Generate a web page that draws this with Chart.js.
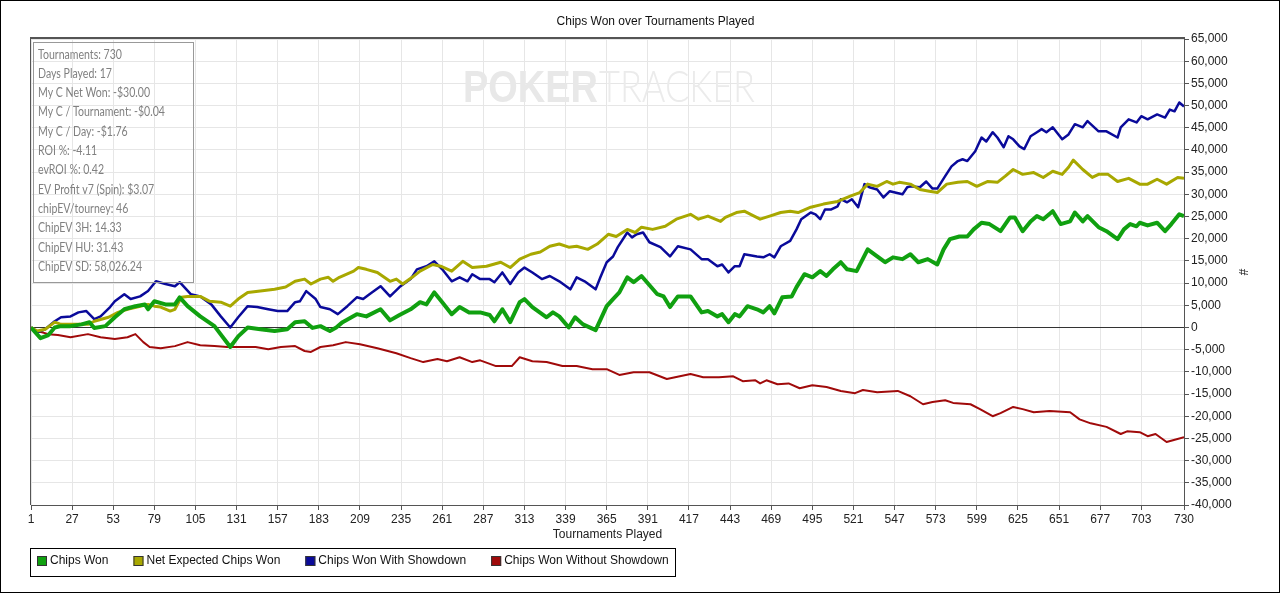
<!DOCTYPE html>
<html>
<head>
<meta charset="utf-8">
<title>Chips Won over Tournaments Played</title>
<script src="https://cdn.jsdelivr.net/npm/chart.js@4.4.1/dist/chart.umd.min.js"></script>
<style>
  html, body { margin: 0; padding: 0; background: #fff; }
  canvas { display: block; }
</style>
</head>
<body>
<canvas id="chart" width="1280" height="593"></canvas>
<script>
// Tick labels on the tournaments axis
const tourneyTicks = [1, 27, 53, 79, 105, 131, 157, 183, 209, 235, 261, 287, 313, 339, 365,
  391, 417, 443, 469, 495, 521, 547, 573, 599, 625, 651, 677, 703, 730];

// Stats box text
const statsLines = [
  "Tournaments: 730",
  "Days Played: 17",
  "My C Net Won: -$30.00",
  "My C / Tournament: -$0.04",
  "My C / Day: -$1.76",
  "ROI %: -4.11",
  "evROI %: 0.42",
  "EV Profit v7 (Spin): $3.07",
  "chipEV/tourney: 46",
  "ChipEV 3H: 14.33",
  "ChipEV HU: 31.43",
  "ChipEV SD: 58,026.24",
];

// Chips Won (tournament, chips)
const chipsWonT = [1, 7, 12, 16, 20, 26, 33, 38, 41, 48, 54, 60, 67, 73, 75, 79, 86, 92, 95, 100,
  108, 117, 127, 132, 138, 146, 155, 163, 168, 174, 179, 184, 190, 194, 198, 207, 213, 222, 228, 234,
  241, 247, 251, 256, 261, 267, 272, 278, 285, 291, 294, 299, 304, 310, 313, 318, 327, 331, 335, 341,
  345, 350, 358, 365, 369, 373, 378, 382, 387, 397, 401, 405, 410, 418, 425, 429, 435, 438, 442, 446,
  449, 454, 460, 464, 468, 471, 476, 482, 485, 490, 495, 500, 504, 508, 513, 517, 523, 530, 536, 541,
  546, 552, 557, 562, 568, 574, 578, 582, 588, 593, 597, 602, 607, 614, 620, 623, 628, 633, 637, 641,
  647, 652, 658, 661, 666, 669, 676, 681, 688, 692, 696, 700, 702, 707, 713, 718, 722, 727, 730];
const chipsWonV = [0, -2400, -1700, 0, 300, 300, 700, 1200, -100, 300, 2300, 4100, 4800, 5200, 4100, 5900, 5200, 5200, 6800, 4800,
  2500, 300, -4400, -2000, 0, -400, -800, -400, 1200, 1400, -100, 300, -800, 0, 1200, 3000, 2500, 4100, 1600, 2800,
  4100, 5700, 5200, 7900, 5700, 3000, 4600, 3400, 3400, 2800, 1400, 4100, 1200, 5700, 6400, 4600, 2300, 3400, 2500, 0,
  2300, 700, -600, 4800, 6400, 7900, 11300, 10200, 11600, 7500, 7000, 4600, 7000, 7000, 3400, 3700, 2500, 3000, 1200, 3000,
  2500, 4800, 4100, 3400, 4800, 3200, 6800, 7000, 9100, 12000, 11300, 12700, 11600, 13100, 14700, 13100, 12700, 17600, 16000, 14700,
  15800, 15400, 16500, 14700, 15400, 14200, 17600, 19900, 20500, 20500, 22100, 23600, 23300, 21700, 24800, 24800, 21700, 23900, 25100, 24400,
  26200, 23300, 23900, 25900, 23900, 25100, 22600, 21700, 19900, 22100, 23300, 22800, 23600, 23000, 23600, 21700, 23300, 25500, 25100];

// Net Expected Chips Won
const netExpectedT = [1, 5, 10, 16, 20, 29, 37, 41, 50, 56, 62, 70, 75, 79, 83, 89, 92, 96, 100, 108,
  114, 121, 127, 132, 138, 146, 155, 162, 168, 174, 178, 184, 189, 192, 196, 205, 208, 213, 220, 228,
  232, 236, 242, 247, 255, 260, 267, 274, 280, 289, 298, 304, 310, 317, 323, 329, 335, 341, 346, 353,
  359, 366, 371, 378, 383, 387, 394, 402, 409, 418, 423, 429, 437, 440, 447, 452, 456, 462, 468, 475,
  481, 486, 494, 502, 511, 519, 525, 530, 536, 542, 546, 550, 557, 563, 569, 574, 580, 587, 593, 599,
  606, 612, 617, 622, 628, 635, 641, 647, 653, 657, 660, 666, 672, 676, 682, 688, 695, 702, 707, 713,
  719, 726, 730];
const netExpectedV = [0, -800, -400, 1200, 700, 700, 700, 1400, 2300, 3400, 4100, 4800, 5200, 4800, 4600, 3700, 4100, 6800, 7000, 7000,
  5900, 5700, 4800, 6400, 7900, 8200, 8600, 9100, 10400, 10900, 9800, 10900, 11300, 10400, 11300, 12700, 13500, 13100, 12400, 10400,
  10900, 9800, 11300, 12700, 14200, 13800, 12700, 14900, 13500, 13800, 14700, 13500, 15400, 16500, 17000, 18300, 18800, 18100, 18300, 17600,
  18800, 21000, 20500, 22100, 21400, 22600, 22100, 22800, 24400, 25500, 24400, 25100, 23900, 24800, 25900, 26200, 25500, 24400, 25100, 25900,
  26200, 25900, 27100, 27800, 28400, 29600, 30400, 32300, 31800, 32900, 32300, 32700, 32300, 31100, 30700, 30400, 32300, 32700, 32900, 31800,
  32900, 32700, 34100, 35600, 34500, 34900, 33800, 35200, 34500, 36100, 37700, 35600, 33800, 34500, 34500, 32900, 33600, 32300, 32300, 33400,
  32300, 33800, 33600];

// Chips Won With Showdown
const withShowdownT = [1, 5, 10, 16, 20, 26, 31, 36, 41, 45, 51, 54, 60, 64, 70, 75, 80, 86, 92, 95,
  102, 108, 115, 121, 127, 132, 138, 144, 151, 157, 163, 168, 171, 175, 181, 184, 190, 195, 201, 207,
  211, 215, 222, 228, 234, 241, 245, 251, 256, 261, 267, 272, 277, 280, 285, 291, 294, 299, 304, 309,
  313, 318, 324, 329, 335, 342, 346, 351, 358, 361, 365, 369, 372, 378, 381, 384, 388, 392, 399, 405,
  410, 418, 425, 429, 435, 438, 442, 446, 449, 452, 460, 464, 468, 471, 475, 481, 485, 488, 494, 497,
  500, 503, 507, 511, 513, 517, 520, 524, 528, 531, 536, 540, 544, 552, 555, 557, 563, 567, 571, 574,
  579, 583, 587, 590, 593, 598, 602, 605, 609, 612, 616, 619, 622, 626, 629, 633, 637, 640, 643, 647,
  653, 657, 661, 666, 669, 676, 681, 688, 690, 695, 700, 703, 707, 713, 718, 721, 724, 727, 730];
const withShowdownV = [0, -1100, -400, 1400, 2300, 2500, 3400, 3700, 1900, 2500, 4600, 5900, 7500, 6400, 7000, 8200, 10400, 9800, 9300, 10200,
  7500, 7000, 5200, 2500, 0, 2300, 4800, 4600, 4100, 3700, 3700, 5700, 5900, 8200, 6400, 4600, 4100, 3000, 4800, 6800,
  6400, 7500, 9300, 7000, 9100, 10900, 13100, 13800, 14900, 13100, 10400, 11300, 10400, 12000, 10900, 10900, 10200, 12400, 9800, 12400,
  13500, 12400, 10900, 11600, 10400, 8600, 11300, 10400, 8600, 11300, 14700, 16000, 18100, 21400, 20300, 21000, 21400, 19200, 18100, 16000,
  18300, 17600, 15400, 15400, 13800, 14200, 12400, 13800, 13800, 16500, 16000, 15800, 16500, 15800, 18300, 19500, 22100, 24400, 25900, 25500,
  24400, 26600, 26600, 27300, 28900, 28200, 28900, 27100, 32300, 31600, 31100, 29300, 30700, 30000, 31600, 31800, 31600, 32900, 31300, 31300,
  34100, 36300, 37500, 37900, 37500, 39700, 42800, 41900, 44000, 42800, 40600, 43100, 42400, 40800, 40200, 43100, 44000, 44700, 44000, 45100,
  42400, 43500, 45800, 45100, 46500, 44200, 44200, 42800, 45100, 46900, 46200, 47600, 46900, 48000, 47300, 49100, 48700, 50700, 49800];

// Chips Won Without Showdown
const withoutShowdownT = [1, 5, 12, 18, 26, 37, 45, 54, 62, 67, 72, 76, 83, 92, 100, 108, 117, 125, 134, 143,
  151, 159, 168, 174, 178, 184, 192, 200, 209, 220, 232, 241, 249, 258, 264, 272, 280, 285, 295, 305,
  310, 318, 327, 337, 346, 356, 365, 373, 382, 392, 403, 418, 426, 436, 445, 451, 459, 462, 466, 473,
  480, 487, 495, 504, 513, 522, 527, 536, 549, 557, 565, 571, 579, 584, 595, 601, 609, 614, 622, 628,
  635, 645, 658, 664, 671, 681, 690, 694, 702, 707, 712, 719, 723, 730];
const withoutShowdownV = [0, -800, -1500, -1700, -2200, -1500, -2200, -2600, -2200, -1500, -3300, -4400, -4700, -4200, -3300, -4000, -4200, -4400, -4400, -4400,
  -4900, -4400, -4200, -5300, -5500, -4400, -4000, -3300, -3800, -4700, -5800, -6900, -7800, -7100, -7600, -6700, -7800, -7400, -8700, -8700,
  -6700, -7600, -7800, -8700, -8700, -9400, -9400, -10700, -10100, -10100, -11600, -10500, -11200, -11200, -11000, -12100, -11900, -12600, -11900, -12800,
  -12600, -13700, -13000, -13400, -14300, -14800, -14100, -14600, -14300, -15500, -17300, -16800, -16400, -17000, -17300, -18400, -20000, -19300, -17900, -18400,
  -19100, -18800, -19100, -20700, -21600, -22400, -24000, -23400, -23600, -24500, -24000, -25800, -25400, -24700];

const toPoints = (ts, vs) => ts.map((t, i) => ({ x: t, y: vs[i] }));

const FONT = "'Liberation Sans', Arial, sans-serif";
Chart.defaults.font.family = FONT;
Chart.defaults.font.size = 12;

// Background, watermark, stats box, legend, frame
const decorations = {
  id: "decorations",
  beforeDraw(chart) {
    const ctx = chart.ctx;
    ctx.save();
    ctx.fillStyle = "#fff";
    ctx.fillRect(0, 0, chart.width, chart.height);
    ctx.restore();
  },
  beforeDatasetsDraw(chart) {
    const ctx = chart.ctx;
    ctx.save();
    ctx.textBaseline = "alphabetic";
    ctx.font = "bold 44px " + FONT;
    let w = ctx.measureText("POKER").width;
    ctx.fillStyle = "#e8e8e8";
    ctx.translate(463, 102);
    ctx.scale(135 / w, 1);
    ctx.fillText("POKER", 0, 0);
    ctx.restore();
    ctx.save();
    ctx.font = "300 44px Lato, " + FONT;
    w = ctx.measureText("TRACKER").width;
    ctx.fillStyle = "#ebebeb";
    ctx.translate(599, 102);
    ctx.scale(156 / w, 1);
    ctx.fillText("TRACKER", 0, 0);
    ctx.restore();
  },
  afterDraw(chart) {
    const ctx = chart.ctx;
    const area = chart.chartArea;
    ctx.save();

    // plot frame
    ctx.strokeStyle = "#555";
    ctx.lineWidth = 1;
    ctx.beginPath();
    ctx.moveTo(area.left - 0.5, area.bottom);
    ctx.lineTo(area.left - 0.5, area.top);
    ctx.stroke();
    ctx.lineWidth = 2;
    ctx.beginPath();
    ctx.moveTo(area.left - 1, area.top - 1);
    ctx.lineTo(area.right + 1, area.top - 1);
    ctx.stroke();

    // stats box (text squeezed a little to match the narrow UI font)
    ctx.lineWidth = 1;
    ctx.strokeStyle = "#999";
    ctx.strokeRect(33.5, 42.5, 160, 240);
    ctx.fillStyle = "#808080";
    ctx.font = "12.5px Lato, 'Noto Sans', sans-serif";
    ctx.textBaseline = "middle";
    ctx.textAlign = "left";
    const sq = 104 / ctx.measureText(statsLines[statsLines.length - 1]).width;
    statsLines.forEach((line, i) => {
      ctx.save();
      ctx.translate(38, 54.5 + i * 19.3);
      ctx.scale(sq, 1);
      ctx.fillText(line, 0, 0);
      ctx.restore();
    });

    // legend
    ctx.strokeStyle = "#000";
    ctx.strokeRect(30.5, 548.5, 645, 28);
    ctx.font = "12px " + FONT;
    let x = 37;
    chart.data.datasets.forEach((ds) => {
      ctx.fillStyle = ds.borderColor;
      ctx.fillRect(x, 556, 10, 10);
      ctx.strokeStyle = "#333";
      ctx.strokeRect(x + 0.5, 556.5, 9, 9);
      ctx.fillStyle = "#111";
      ctx.fillText(ds.label, x + 13, 561);
      x += 13 + ctx.measureText(ds.label).width + 25;
    });

    // outer frame
    ctx.strokeStyle = "#000";
    ctx.strokeRect(0.5, 0.5, chart.width - 1, chart.height - 1);
    ctx.restore();
  },
};

const lineSet = (label, color, width, ts, vs) => ({
  label,
  data: toPoints(ts, vs),
  borderColor: color,
  backgroundColor: color,
  borderWidth: width,
  borderJoinStyle: "round",
  pointRadius: 0,
  tension: 0,
  fill: false,
});

new Chart(document.getElementById("chart"), {
  type: "line",
  data: {
    datasets: [
      lineSet("Chips Won", "#10a010", 4, chipsWonT, chipsWonV),
      lineSet("Net Expected Chips Won", "#a8a800", 3, netExpectedT, netExpectedV),
      lineSet("Chips Won With Showdown", "#0a0a9a", 2.5, withShowdownT, withShowdownV),
      lineSet("Chips Won Without Showdown", "#a00a0a", 2, withoutShowdownT, withoutShowdownV),
    ],
  },
  options: {
    responsive: false,
    animation: false,
    devicePixelRatio: 1,
    events: [],
    layout: { padding: { left: 31, right: 0, top: 0, bottom: 48 } },
    plugins: {
      legend: { display: false },
      tooltip: { enabled: false },
      title: {
        display: true,
        text: "Chips Won over Tournaments Played",
        color: "#111",
        font: { size: 12, weight: "normal" },
        padding: { top: 14, bottom: 10.6 },
      },
    },
    scales: {
      x: {
        type: "linear",
        min: 1,
        max: 730,
        afterBuildTicks: (s) => { s.ticks = tourneyTicks.map((v) => ({ value: v })); },
        afterFit: (s) => { s.height = 40; },
        grid: { color: "#e6e6e6", tickColor: "#555", tickLength: 5 },
        border: { color: "#555" },
        ticks: { color: "#222", autoSkip: false, maxRotation: 0, padding: 2 },
        title: {
          display: true,
          text: "Tournaments Played",
          color: "#222",
          padding: { top: 0, bottom: 2.8 },
        },
      },
      y: {
        position: "right",
        min: -40000,
        max: 65000,
        afterFit: (s) => { s.width = 96; },
        grid: {
          color: (c) => (c.tick && c.tick.value === 0 ? "#333" : "#e6e6e6"),
          tickColor: "#555",
          tickLength: 5,
        },
        border: { color: "#555" },
        ticks: {
          stepSize: 5000,
          color: "#222",
          padding: 2,
          callback: (v) => v.toLocaleString("en-US"),
        },
        title: { display: true, text: "#", color: "#222", padding: { top: 30 } },
      },
    },
  },
  plugins: [decorations],
});
</script>
</body>
</html>
